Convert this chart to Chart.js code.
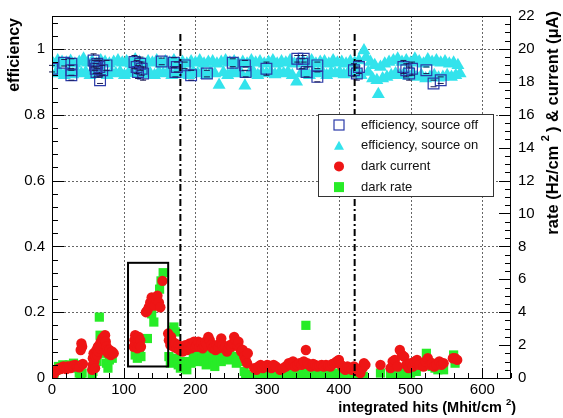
<!DOCTYPE html>
<html><head><meta charset="utf-8">
<script src="https://cdn.jsdelivr.net/npm/chart.js@4.4.0/dist/chart.umd.min.js"></script>
<style>html,body{margin:0;padding:0;background:#fff;}canvas{display:block;}</style>
</head><body>
<canvas id="c" width="563" height="418"></canvas>
<script>
// ---------- data ----------
// efficiency, source off: [integrated hits, efficiency, error]
const effSourceOff = [
 [0,0.940,0.010],[17,0.958,0.010],[27,0.955,0.015],[27,0.935,0.015],[27,0.920,0.015],
 [58,0.965,0.020],[60,0.950,0.015],[61,0.940,0.015],[62,0.930,0.015],[63,0.955,0.015],[66,0.945,0.020],[67,0.905,0.010],[70,0.935,0.015],[76,0.950,0.015],
 [115,0.960,0.020],[118,0.945,0.020],[120,0.930,0.020],[123,0.955,0.020],[125,0.940,0.020],[127,0.925,0.020],
 [153,0.962,0.010],[170,0.958,0.015],[172,0.930,0.015],[174,0.945,0.015],[185,0.950,0.010],[194,0.920,0.015],[216,0.925,0.010],
 [252,0.958,0.012],[269,0.950,0.015],[270,0.930,0.015],[299,0.940,0.020],[342,0.970,0.010],[351,0.970,0.010],[349,0.955,0.015],
 [355,0.930,0.015],[370,0.950,0.010],[370,0.915,0.015],[421,0.935,0.020],[425,0.925,0.020],[428,0.945,0.020],
 [490,0.945,0.020],[494,0.935,0.020],[498,0.925,0.020],[502,0.940,0.020],[522,0.935,0.010],[532,0.895,0.010],[542,0.905,0.010]
];
// efficiency, source on: [integrated hits, efficiency]
const effSourceOn = [
 [2,.955],[5,.925],[8,.965],[11,.93],[14,.96],[17,.92],[20,.958],[23,.928],[26,.963],[29,.922],[32,.955],[35,.93],[38,.96],[41,.925],[44,.97],[47,.93],
 [50,.958],[53,.92],[56,.962],[59,.928],[62,.955],[65,.925],[68,.965],[71,.93],[74,.96],[77,.92],[80,.955],[83,.928],[86,.96],[89,.925],[92,.965],[95,.93],
 [98,.958],[101,.92],[104,.962],[107,.928],[110,.955],[113,.925],[116,.968],[119,.93],[122,.96],[125,.922],[128,.955],[131,.93],[134,.962],[137,.925],
 [140,.958],[143,.92],[146,.965],[149,.93],[152,.955],[155,.925],[158,.962],[161,.928],[164,.958],[167,.92],[170,.965],[173,.93],[176,.955],[179,.922],
 [182,.96],[185,.928],[188,.955],[191,.92],[194,.962],[197,.93],[200,.958],[203,.925],[206,.965],[209,.93],[212,.955],[215,.92],[218,.96],[221,.928],
 [224,.962],[227,.925],[230,.955],[233,.89],[236,.96],[239,.928],[242,.965],[245,.92],[248,.958],[251,.93],[254,.962],[257,.925],[260,.955],[263,.928],
 [266,.96],[269,.888],[272,.955],[275,.925],[278,.965],[281,.93],[284,.958],[287,.92],[290,.962],[293,.928],[296,.955],[299,.925],[302,.96],[305,.93],
 [308,.965],[311,.922],[314,.955],[317,.928],[320,.962],[323,.925],[326,.958],[329,.93],[332,.965],[335,.92],[338,.955],[341,.9],[344,.96],[347,.925],
 [350,.962],[353,.93],[356,.958],[359,.92],[362,.965],[365,.928],[368,.955],[371,.925],[374,.96],[377,.93],[380,.962],[383,.92],[386,.955],[389,.928],
 [392,.965],[395,.925],[398,.958],[401,.93],[404,.96],[407,.922],[410,.955],[413,.928],[416,.962],[419,.925],[422,.958],[425,.93],[428,.965],[431,.92],
 [435,.995],[438,.975],[441,.93],[444,.96],[447,.91],[450,.95],[453,.905],[455,.862],[458,.945],[461,.91],[464,.955],[467,.915],[470,.96],[473,.92],
 [476,.965],[479,.925],[482,.97],[485,.92],[488,.96],[491,.925],[494,.965],[497,.918],[500,.958],[503,.925],[506,.97],[509,.915],[512,.962],[515,.92],
 [518,.955],[521,.91],[524,.968],[527,.915],[530,.96],[533,.92],[536,.965],[539,.912],[542,.958],[545,.915],[548,.962],[551,.92],[554,.955],[557,.915],
 [560,.958],[563,.92],[566,.95],[569,.925]
];
// dark current (uA): [integrated hits, current]
const darkCurrent = [
 [1,0.1],[2,0.25],[4,0.35],[6,0.45],[8,0.5],[10,0.6],[12,0.55],[14,0.65],[16,0.7],[18,0.6],[20,0.55],[22,0.7],[24,0.65],[26,0.6],[28,0.75],[30,0.7],
 [32,0.8],[34,0.75],[36,0.7],[38,0.65],[40,1.7],[41,2.1],[42,1.9],[43,0.85],
 [56,0.5],[57,0.8],[57,1.2],[58,1.5],[59,1.0],[60,0.6],[61,1.3],[62,1.7],[63,1.4],[64,1.9],[65,1.6],[66,2.0],[67,1.8],[68,2.2],[69,2.0],[70,2.4],
 [71,2.1],[72,2.5],[73,2.3],[74,2.6],[75,2.2],[76,1.9],[77,1.7],[78,1.5],[80,1.7],[82,1.4],[84,1.6],[86,1.5],
 [114,1.9],[115,2.3],[116,2.6],[117,2.1],[118,2.4],[119,1.8],[120,2.2],[121,2.5],[122,2.0],[123,2.3],[124,1.9],
 [131,4.0],[133,4.1],[135,4.3],[137,4.6],[139,4.9],[141,4.7],[143,4.4],[145,4.8],[147,5.0],[149,4.6],[151,4.3],[154,5.9],
 [162,2.7],[163,2.3],[165,2.0],[166,2.5],[168,2.2],[170,1.9],[172,2.1],[174,1.8],[176,2.0],[178,1.7],[180,1.9],[182,1.6],[184,1.8],[186,2.0],
 [188,1.7],[190,1.9],[192,2.1],[194,1.8],[196,2.0],[198,2.2],[200,1.9],[202,2.0],[204,2.2],[206,1.9],[208,2.1],[210,1.8],[212,2.0],[214,2.2],
 [216,2.0],[218,2.5],[220,2.3],[222,2.0],[224,1.8],[226,1.9],[228,1.7],[230,2.0],[232,1.8],[234,2.1],[236,2.4],[238,2.0],[240,1.8],[242,1.9],
 [244,1.6],[246,1.8],[248,2.0],[250,1.9],[252,2.1],[254,2.5],[256,2.3],[258,2.0],[260,2.2],[262,1.8],[264,1.6],[266,1.7],[268,1.3],[270,1.1],
 [272,0.9],[273,1.5],
 [282,0.6],[285,0.5],[288,0.7],[291,0.8],[294,0.6],[297,0.7],[300,0.8],[303,0.75],[306,0.6],[309,0.8],[312,0.7],[318,0.5],[322,0.6],[326,0.7],
 [330,0.9],[333,0.8],[336,1.0],[339,0.7],[342,0.8],[345,0.9],[348,0.8],[351,1.0],[354,1.7],[356,0.9],[358,0.8],[361,0.7],[364,0.85],[367,0.8],
 [370,0.7],[373,0.75],[376,0.8],[379,0.7],[382,0.8],[385,0.75],[388,0.7],[391,0.85],[394,0.9],[397,1.0],[400,1.1],[403,0.8],[406,0.6],[409,0.5],
 [412,0.7],[415,0.6],[418,0.5],[421,0.7],[424,0.6],[427,0.4],[430,0.3],[433,0.6],[435,0.9],[437,0.8],
 [458,0.8],[472,0.6],[475,1.0],[478,1.1],[482,0.7],[485,1.7],[488,1.4],[491,1.3],[494,0.8],[497,0.6],[500,0.9],[503,0.7],[506,1.0],[509,1.1],
 [512,0.8],[518,0.7],[521,1.0],[524,1.2],[527,0.8],[530,0.9],[533,0.7],[536,0.8],[540,1.0],[543,0.8],[546,0.9],[559,1.2],[562,1.2],[565,1.1]
];
// dark rate (Hz/cm2): [integrated hits, rate]
const darkRate = [
 [1,0.1],[3,0.3],[6,0.5],[9,0.7],[12,0.6],[15,0.8],[18,0.7],[21,0.6],[24,0.8],[27,0.7],[30,0.9],[33,0.8],[36,0.6],[38,0.3],[40,0.1],[42,0.3],
 [56,0.1],[57,0.4],[59,0.9],[61,1.3],[63,1.0],[65,1.6],[66,3.7],[67,2.6],[68,2.3],[70,2.0],[72,1.8],[74,1.5],[76,0.9],[78,0.6],[80,1.1],[84,1.2],
 [116,1.4],[119,1.2],[122,1.5],[124,1.3],[133,2.4],[139,3.9],[142,3.4],[150,5.4],[152,5.9],[155,6.4],
 [163,1.3],[165,0.9],[168,2.9],[170,3.1],[172,2.8],[174,1.2],[176,0.8],[179,0.6],[182,1.0],[185,0.7],[188,0.5],[191,1.0],[194,0.9],[197,1.3],
 [200,1.2],[203,1.0],[206,1.4],[209,1.2],[212,1.0],[215,0.8],[218,1.3],[221,1.5],[224,0.9],[227,0.7],[230,1.2],[233,1.4],[236,1.0],[239,1.3],
 [242,1.5],[245,1.1],[248,1.4],[251,1.2],[254,1.3],[257,0.9],[260,1.2],[263,1.0],[268,0.4],[270,0.2],[272,0.1],
 [282,0.1],[286,0.2],[290,0.3],[294,0.1],[298,0.2],[302,0.3],[306,0.1],[310,0.2],[318,0.2],[322,0.1],[326,0.3],[330,0.2],[334,0.1],[338,0.3],
 [342,0.2],[346,0.1],[350,0.3],[354,3.2],[356,0.4],[358,0.2],[362,0.1],[366,0.3],[370,0.2],[374,0.1],[378,0.2],[382,0.3],[386,0.1],[390,0.2],
 [394,0.3],[398,0.2],[402,0.1],[406,0.2],[410,0.3],[414,0.1],[418,0.2],[422,0.1],[426,0.3],[430,0.2],[434,0.1],
 [458,0.3],[472,0.2],[476,0.4],[480,0.3],[484,0.2],[488,0.3],[492,0.4],[496,0.2],[500,0.3],[504,0.5],[508,0.4],[520,0.8],[522,1.5],[526,0.9],
 [530,0.7],[534,0.6],[538,0.5],[542,0.6],[546,0.5],[560,1.4],[562,0.9]
];
// highlighted region [x0,x1] in hits, [y0,y1] on right axis
const boxX = [106, 162];
const boxY = [0.7, 7.0];
// dash-dot marker lines (hits), top in efficiency units
const markerX = [179, 422];
const markerTop = 1.045;
const legendLabels = ['efficiency, source off','efficiency, source on','dark current','dark rate'];
const xTitle = 'integrated hits (Mhit/cm';
const yTitle = 'efficiency';
const y2Title = ['rate (Hz/cm', ') & current (\u03bcA)'];

// ---------- styles ----------
const FONT = '"Liberation Sans", Arial, Helvetica, sans-serif';
const C_OFF = '#2b3aa8', C_ON = '#33e3ec', C_CUR = '#ee1515', C_RATE = '#27ec27';

const deco = {
  id: 'deco',
  beforeDatasetsDraw(chart) {
    const {ctx, chartArea: a, scales: {x, y}} = chart;
    ctx.save();
    ctx.strokeStyle = '#666'; ctx.lineWidth = 1; ctx.setLineDash([2, 2]);
    ctx.beginPath();
    for (let v = 100; v <= 600; v += 100) { const p = Math.round(x.getPixelForValue(v)) + 0.5; ctx.moveTo(p, a.top); ctx.lineTo(p, a.bottom); }
    for (let v = 0.2; v <= 1.01; v += 0.2) { const p = Math.round(y.getPixelForValue(v)) + 0.5; ctx.moveTo(a.left, p); ctx.lineTo(a.right, p); }
    ctx.stroke();
    ctx.restore();
  },
  afterDatasetsDraw(chart) {
    const {ctx, chartArea: a, scales: {x, y, y2}} = chart;
    ctx.save();
    // error bars for source-off points
    ctx.strokeStyle = '#1a1a50'; ctx.lineWidth = 1;
    ctx.beginPath();
    for (const [hx, e, er] of effSourceOff) {
      const px = x.getPixelForValue(hx), pt = y.getPixelForValue(e + er), pb = y.getPixelForValue(e - er), pc = y.getPixelForValue(e);
      if (pc - pt > 5) { ctx.moveTo(px, pt); ctx.lineTo(px, pc - 5); }
      if (pb - pc > 5) { ctx.moveTo(px, pc + 5); ctx.lineTo(px, pb); }
      ctx.moveTo(px - 3, pt); ctx.lineTo(px + 3, pt);
      ctx.moveTo(px - 3, pb); ctx.lineTo(px + 3, pb);
    }
    ctx.stroke();
    // dash-dot lines
    ctx.strokeStyle = '#000'; ctx.lineWidth = 2; ctx.setLineDash([7, 3, 2, 3]);
    ctx.beginPath();
    for (const m of markerX) { const p = x.getPixelForValue(m); ctx.moveTo(p, y.getPixelForValue(markerTop)); ctx.lineTo(p, a.bottom); }
    ctx.stroke();
    ctx.setLineDash([]);
    // box
    ctx.lineWidth = 2;
    const bx0 = x.getPixelForValue(boxX[0]), bx1 = x.getPixelForValue(boxX[1]);
    const by0 = y2.getPixelForValue(boxY[0]), by1 = y2.getPixelForValue(boxY[1]);
    ctx.strokeRect(bx0, by1, bx1 - bx0, by0 - by1);
    // frame
    ctx.lineWidth = 1;
    ctx.strokeRect(a.left + 0.5, a.top + 0.5, a.right - a.left - 1, a.bottom - a.top);
    // ticks
    ctx.beginPath();
    for (let v = 0; v <= 640; v += 20) {
      const p = Math.round(x.getPixelForValue(v)) + 0.5; const L = (v % 100 === 0) ? 10 : 5;
      ctx.moveTo(p, a.bottom); ctx.lineTo(p, a.bottom - L);
    }
    for (let i = 0; i <= 27; i++) {
      const v = i * 0.04; const p = Math.round(y.getPixelForValue(v)) + 0.5; const L = (i % 5 === 0) ? 12 : 6;
      ctx.moveTo(a.left, p); ctx.lineTo(a.left + L, p);
    }
    for (let i = 0; i <= 44; i++) {
      const v = i * 0.5; const p = Math.round(y2.getPixelForValue(v)) + 0.5; const L = (i % 4 === 0) ? 12 : 6;
      ctx.moveTo(a.right, p); ctx.lineTo(a.right - L, p);
    }
    ctx.stroke();
    ctx.restore();
  },
  afterDraw(chart) {
    const {ctx, chartArea: a} = chart;
    ctx.save();
    // legend
    const L = {x: 318, y: 114, w: 175, h: 82, row: 20.7};
    ctx.fillStyle = '#fff'; ctx.fillRect(L.x, L.y, L.w, L.h);
    ctx.strokeStyle = '#333'; ctx.lineWidth = 1; ctx.strokeRect(L.x + 0.5, L.y + 0.5, L.w, L.h);
    const mx = L.x + 21;
    legendLabels.forEach((t, i) => {
      const cy = L.y + 11 + i * L.row;
      if (i === 0) { ctx.strokeStyle = C_OFF; ctx.lineWidth = 1.2; ctx.strokeRect(mx - 5, cy - 5, 10, 10); }
      if (i === 1) { ctx.fillStyle = C_ON; ctx.beginPath(); ctx.moveTo(mx, cy - 5); ctx.lineTo(mx + 5, cy + 4); ctx.lineTo(mx - 5, cy + 4); ctx.closePath(); ctx.fill(); }
      if (i === 2) { ctx.fillStyle = C_CUR; ctx.beginPath(); ctx.arc(mx, cy, 5, 0, Math.PI * 2); ctx.fill(); }
      if (i === 3) { ctx.fillStyle = C_RATE; ctx.fillRect(mx - 5, cy - 5, 10, 10); }
      ctx.fillStyle = '#111'; ctx.font = '13px ' + FONT; ctx.textAlign = 'left'; ctx.textBaseline = 'middle';
      ctx.fillText(t, L.x + 43, cy);
    });
    // left title
    ctx.fillStyle = '#000'; ctx.font = 'bold 16px ' + FONT; ctx.textBaseline = 'middle';
    ctx.save(); ctx.translate(15, 18); ctx.rotate(-Math.PI / 2); ctx.textAlign = 'right'; ctx.fillText(yTitle, 0, 0); ctx.restore();
    // right title with superscript
    ctx.save(); ctx.translate(553, 11); ctx.rotate(-Math.PI / 2);
    ctx.textAlign = 'left';
    const big = 'bold 16.5px ' + FONT, small = 'bold 11px ' + FONT;
    ctx.font = big; const w1 = ctx.measureText(y2Title[0] + ' ').width, w3 = ctx.measureText(y2Title[1]).width;
    ctx.font = small; const w2 = ctx.measureText('2 ').width;
    let sx = -(w1 + w2 + w3);
    ctx.font = big; ctx.fillText(y2Title[0] + ' ', sx, 0); sx += w1;
    ctx.font = small; ctx.fillText('2 ', sx, -7); sx += w2;
    ctx.font = big; ctx.fillText(y2Title[1], sx, 0);
    ctx.restore();
    // x title
    ctx.textAlign = 'left'; ctx.textBaseline = 'alphabetic';
    ctx.font = 'bold 14.5px ' + FONT; const xw1 = ctx.measureText(xTitle + ' ').width, xw3 = ctx.measureText(')').width;
    ctx.font = 'bold 9.5px ' + FONT; const xw2 = ctx.measureText('2').width;
    let tx = 516 - (xw1 + xw2 + xw3);
    ctx.font = 'bold 14.5px ' + FONT; ctx.fillText(xTitle + ' ', tx, 412); tx += xw1;
    ctx.font = 'bold 9.5px ' + FONT; ctx.fillText('2', tx, 405); tx += xw2;
    ctx.font = 'bold 14.5px ' + FONT; ctx.fillText(')', tx, 412);
    ctx.restore();
  }
};

const toPts = (arr) => arr.map(r => ({x: r[0], y: r[1]}));
const tickFont = {family: FONT, size: 15};

new Chart(document.getElementById('c'), {
  type: 'scatter',
  data: {
    datasets: [
      {label: 'dark current', data: toPts(darkCurrent), yAxisID: 'y2', pointStyle: 'circle', pointRadius: 5.2, borderWidth: 0, backgroundColor: C_CUR, borderColor: C_CUR, order: 1},
      {label: 'dark rate', data: toPts(darkRate), yAxisID: 'y2', pointStyle: 'rect', pointRadius: 6.5, borderWidth: 0, backgroundColor: C_RATE, borderColor: C_RATE, order: 2},
      {label: 'efficiency, source off', data: toPts(effSourceOff), yAxisID: 'y', pointStyle: 'rect', pointRadius: 7.6, borderWidth: 1.2, backgroundColor: 'rgba(0,0,0,0)', borderColor: C_OFF, order: 3},
      {label: 'efficiency, source on', data: toPts(effSourceOn), yAxisID: 'y', pointStyle: 'triangle', pointRadius: 7.5, borderWidth: 0, backgroundColor: C_ON, borderColor: C_ON, order: 4}
    ]
  },
  options: {
    responsive: false, animation: false, devicePixelRatio: 1,
    layout: {padding: {top: 14, left: 0, right: 0, bottom: 0}},
    plugins: {legend: {display: false}, tooltip: {enabled: false}},
    scales: {
      x: {type: 'linear', min: 0, max: 640, grid: {display: false, drawTicks: false}, border: {display: false},
          ticks: {stepSize: 100, includeBounds: false, autoSkip: false, maxRotation: 0, padding: 3, color: '#000', font: tickFont,
                  callback: v => (v % 100 === 0 ? String(v) : '')},
          afterFit: s => { s.height = 40; }},
      y: {type: 'linear', position: 'left', min: 0, max: 1.1, grid: {display: false, drawTicks: false}, border: {display: false},
          ticks: {stepSize: 0.2, includeBounds: false, autoSkip: false, padding: 7, color: '#000', font: tickFont,
                  callback: v => String(+v.toFixed(1))},
          afterFit: s => { s.width = 52; }},
      y2: {type: 'linear', position: 'right', min: 0, max: 22, grid: {display: false, drawTicks: false}, border: {display: false},
          ticks: {stepSize: 2, includeBounds: false, autoSkip: false, padding: 7, color: '#000', font: tickFont},
          afterFit: s => { s.width = 52; }}
    }
  },
  plugins: [deco]
});
</script>
</body></html>
